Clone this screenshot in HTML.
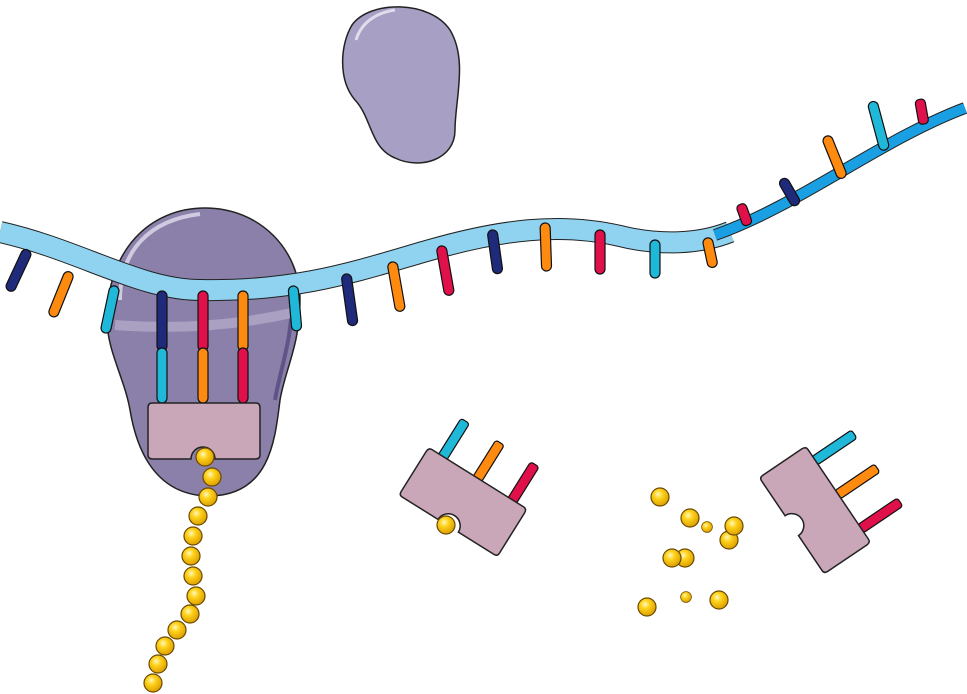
<!DOCTYPE html>
<html><head><meta charset="utf-8"><style>html,body{margin:0;padding:0;background:#fff}svg{display:block}</style></head>
<body>
<svg width="967" height="694" viewBox="0 0 967 694" xmlns="http://www.w3.org/2000/svg">
<defs>
<radialGradient id="bead" cx="0.4" cy="0.35" r="0.7"><stop offset="0" stop-color="#fff8c0"/><stop offset="0.35" stop-color="#ffd21a"/><stop offset="1" stop-color="#d89a00"/></radialGradient>
<g id="b"><circle r="9" fill="url(#bead)" stroke="#6b4a00" stroke-width="1.2"/></g>
</defs>
<!-- small subunit -->
<path d="M352,25 C370,0 430,0 450,30 C468,60 455,100 455,130 C455,160 420,170 395,158 C370,148 372,118 355,100 C338,80 340,45 352,25 Z" fill="#a8a0c4" stroke="#222" stroke-width="1.5"/>
<path d="M356,40 C362,20 380,12 395,10" fill="none" stroke="#e0dcec" stroke-width="3"/>
<!-- large subunit -->
<path d="M205,208 C260,208 300,250 300,300 C300,345 285,370 280,400 C275,440 270,495 210,496 C150,496 135,440 130,410 C125,380 107,350 107,320 C107,250 150,208 205,208 Z" fill="#8a80aa" stroke="#222" stroke-width="1.5"/>
<path d="M120,300 C120,250 150,220 200,214" fill="none" stroke="#cfcadf" stroke-width="4"/>
<path d="M292,300 C292,340 280,370 275,400" fill="none" stroke="#5e5488" stroke-width="4"/>
<path d="M115,325 C180,330 240,325 296,312" fill="none" stroke="#b0a8c8" stroke-width="10" opacity="0.8"/>
<!-- mRNA -->
<path d="M0,232 C80,250 140,290 200,290 C300,292 360,270 430,250 C500,230 560,222 620,236 C660,246 700,244 730,232" fill="none" stroke="#222" stroke-width="22"/>
<path d="M0,232 C80,250 140,290 200,290 C300,292 360,270 430,250 C500,230 560,222 620,236 C660,246 700,244 730,232" fill="none" stroke="#8fd3f0" stroke-width="20"/>
<path d="M715,235 C800,205 880,140 965,108" fill="none" stroke="#222" stroke-width="12"/>
<path d="M715,235 C800,205 880,140 965,108" fill="none" stroke="#1aa0e2" stroke-width="10"/>
<!-- codon tabs lower -->
<g stroke="#111" stroke-width="1.2">
<rect x="-5" y="0" width="10" height="45" rx="5" fill="#1f2a7a" transform="translate(28,250) rotate(25)"/>
<rect x="-5" y="0" width="10" height="48" rx="5" fill="#ff8a10" transform="translate(70,272) rotate(22)"/>
<rect x="-5" y="0" width="10" height="48" rx="5" fill="#20b8d8" transform="translate(115,286) rotate(12)"/>
<rect x="-5" y="0" width="10" height="45" rx="5" fill="#20b8d8" transform="translate(293,286) rotate(-5)"/>
<rect x="-5" y="0" width="10" height="52" rx="5" fill="#1f2a7a" transform="translate(346,274) rotate(-8)"/>
<rect x="-5" y="0" width="10" height="50" rx="5" fill="#ff8a10" transform="translate(392,262) rotate(-10)"/>
<rect x="-5" y="0" width="10" height="50" rx="5" fill="#e0104a" transform="translate(441,246) rotate(-10)"/>
<rect x="-5" y="0" width="10" height="44" rx="5" fill="#1f2a7a" transform="translate(492,230) rotate(-8)"/>
<rect x="-5" y="0" width="10" height="48" rx="5" fill="#ff8a10" transform="translate(545,223) rotate(-2)"/>
<rect x="-5" y="0" width="10" height="44" rx="5" fill="#e0104a" transform="translate(600,230) rotate(0)"/>
<rect x="-5" y="0" width="10" height="38" rx="5" fill="#20b8d8" transform="translate(655,240) rotate(0)"/>
<rect x="-5" y="0" width="10" height="30" rx="5" fill="#ff8a10" transform="translate(707,238) rotate(-12)"/>
<!-- upper right -->
<rect x="-5" y="-22" width="10" height="22" rx="4" fill="#e0104a" transform="translate(748,225) rotate(-20)"/>
<rect x="-5" y="-30" width="10" height="30" rx="5" fill="#1f2a7a" transform="translate(797,205) rotate(-30)"/>
<rect x="-5" y="-45" width="10" height="45" rx="5" fill="#ff8a10" transform="translate(843,178) rotate(-22)"/>
<rect x="-5" y="-50" width="10" height="50" rx="5" fill="#20b8d8" transform="translate(885,150) rotate(-15)"/>
<rect x="-5" y="-25" width="10" height="25" rx="4" fill="#e0104a" transform="translate(924,124) rotate(-10)"/>
<!-- tRNA bars in ribosome -->
<rect x="157" y="291" width="10" height="60" rx="5" fill="#1f2a7a"/>
<rect x="157" y="348" width="10" height="55" rx="5" fill="#20b8d8"/>
<rect x="198" y="291" width="10" height="60" rx="5" fill="#e0104a"/>
<rect x="198" y="348" width="10" height="55" rx="5" fill="#ff8a10"/>
<rect x="238" y="291" width="10" height="60" rx="5" fill="#ff8a10"/>
<rect x="238" y="348" width="10" height="55" rx="5" fill="#e0104a"/>
</g>
<!-- adapter in ribosome -->
<path d="M152,403 H256 Q260,403 260,408 V455 Q260,459 255,459 H215 A12,12 0 0 0 191,459 H153 Q148,459 148,455 V408 Q148,403 152,403 Z" fill="#c9a6b8" stroke="#222" stroke-width="1.5"/>
<!-- chain -->
<g>
<use href="#b" x="205" y="457"/><use href="#b" x="212" y="477"/><use href="#b" x="208" y="497"/><use href="#b" x="198" y="516"/><use href="#b" x="193" y="536"/><use href="#b" x="191" y="556"/><use href="#b" x="193" y="576"/><use href="#b" x="196" y="596"/><use href="#b" x="190" y="614"/><use href="#b" x="177" y="630"/><use href="#b" x="165" y="646"/><use href="#b" x="158" y="664"/><use href="#b" x="153" y="683"/>
</g>
<!-- free tRNA left -->
<g transform="translate(463,502) rotate(32)">
<g stroke="#111" stroke-width="1.2">
<rect x="-46" y="-70" width="10" height="45" rx="3" fill="#20b8d8"/>
<rect x="-5" y="-70" width="10" height="45" rx="3" fill="#ff8a10"/>
<rect x="36" y="-70" width="10" height="45" rx="3" fill="#e0104a"/>
</g>
<path d="M-54,-28 H54 Q58,-28 58,-23 V24 Q58,28 54,28 H12 A12,12 0 0 0 -12,28 H-54 Q-58,28 -58,24 V-23 Q-58,-28 -54,-28 Z" fill="#c9a6b8" stroke="#222" stroke-width="1.5"/>
</g>
<use href="#b" x="446" y="525"/>
<!-- free tRNA right -->
<g transform="translate(815,510) rotate(56)">
<g stroke="#111" stroke-width="1.2">
<rect x="-46" y="-75" width="10" height="48" rx="3" fill="#20b8d8"/>
<rect x="-5" y="-75" width="10" height="48" rx="3" fill="#ff8a10"/>
<rect x="36" y="-75" width="10" height="48" rx="3" fill="#e0104a"/>
</g>
<path d="M-54,-28 H54 Q58,-28 58,-23 V24 Q58,28 54,28 H12 A12,12 0 0 0 -12,28 H-54 Q-58,28 -58,24 V-23 Q-58,-28 -54,-28 Z" fill="#c9a6b8" stroke="#222" stroke-width="1.5"/>
</g>
<!-- free beads -->
<use href="#b" x="660" y="497"/><use href="#b" x="690" y="518"/>
<g transform="translate(707,527) scale(0.6)"><use href="#b"/></g>
<use href="#b" x="729" y="540"/><use href="#b" x="734" y="526"/>
<use href="#b" x="685" y="558"/><use href="#b" x="672" y="558"/>
<use href="#b" x="647" y="607"/>
<g transform="translate(686,597) scale(0.6)"><use href="#b"/></g>
<use href="#b" x="719" y="600"/>
</svg>
</body></html>
